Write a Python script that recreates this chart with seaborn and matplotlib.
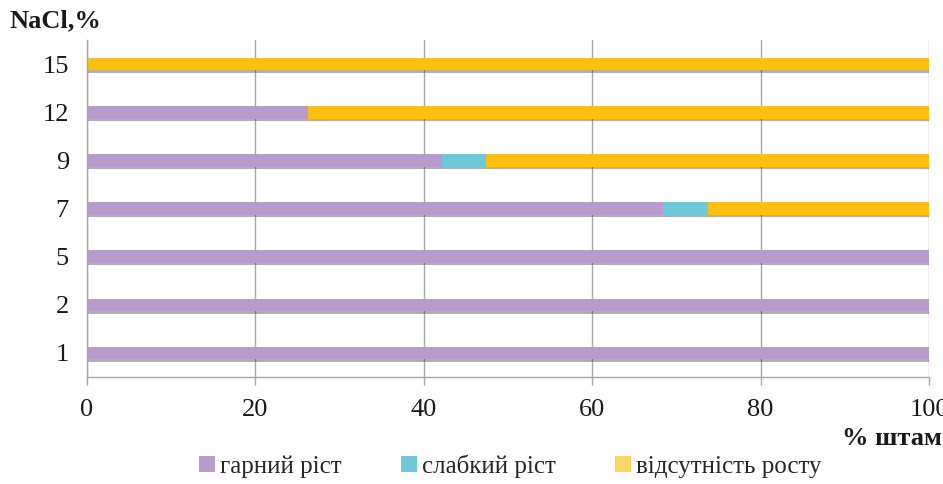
import matplotlib
matplotlib.use("Agg")
import matplotlib.pyplot as plt
import matplotlib.patheffects as pe
from matplotlib.patches import Patch
import seaborn as sns
import pandas as pd

# NaCl concentration (%) and share of strains (%) by growth level
nacl = ["15", "12", "9", "7", "5", "2", "1"]
good_growth = [0.0, 26.3, 42.1, 68.4, 100.0, 100.0, 100.0]
weak_growth = [0.0, 0.0, 5.3, 5.3, 0.0, 0.0, 0.0]
no_growth = [100.0, 73.7, 52.6, 26.3, 0.0, 0.0, 0.0]

series_names = ["гарний ріст", "слабкий ріст", "відсутність росту"]
bar_colors = ["#B89BCB", "#6CC9D9", "#FDC010"]
legend_colors = ["#B89BCB", "#6CC9D9", "#FCD664"]

sns.set_theme(style="white")
plt.rcParams["font.family"] = ["Liberation Serif", "DejaVu Serif"]

df = pd.DataFrame({
    "nacl": nacl,
    "good": good_growth,
    "weak": weak_growth,
    "none": no_growth,
})
df["lvl1"] = df["good"]
df["lvl2"] = df["good"] + df["weak"]
df["lvl3"] = df["good"] + df["weak"] + df["none"]

fig = plt.figure(figsize=(9.43, 4.84), dpi=100)
ax = fig.add_axes([0.0923, 0.221, 0.8929, 0.696])

ax.set_axisbelow(True)
ax.grid(axis="x", color="#A6A6A6", linewidth=1.0)

width = 0.26
# Stacked bars drawn back to front from cumulative totals
sns.barplot(data=df, x="lvl3", y="nacl", order=nacl, orient="h",
            color=bar_colors[2], saturation=1, width=width, ax=ax,
            edgecolor="none")
for p in ax.patches:
    p.set_path_effects([pe.SimplePatchShadow(offset=(0.6, -1.8),
                                             shadow_rgbFace="#3a3a3a",
                                             alpha=0.4),
                        pe.Normal()])
sns.barplot(data=df, x="lvl2", y="nacl", order=nacl, orient="h",
            color=bar_colors[1], saturation=1, width=width, ax=ax,
            edgecolor="none")
sns.barplot(data=df, x="lvl1", y="nacl", order=nacl, orient="h",
            color=bar_colors[0], saturation=1, width=width, ax=ax,
            edgecolor="none")

ax.set_xlim(0, 100)
ax.set_ylim(len(nacl) - 0.5, -0.5)
ax.set_xticks([0, 20, 40, 60, 80, 100])
ax.set_xlabel("")
ax.set_ylabel("")

for side in ["top", "right"]:
    ax.spines[side].set_visible(False)
for side in ["left", "bottom"]:
    ax.spines[side].set_color("#A6A6A6")
    ax.spines[side].set_linewidth(1.0)

ax.tick_params(axis="x", which="both", bottom=True, length=6, width=1.0,
               color="#A6A6A6", labelsize=19, pad=10, labelcolor="#1a1a1a")
ax.tick_params(axis="y", left=False, labelsize=19, pad=7, labelcolor="#1a1a1a")
for lbl in ax.get_xticklabels():
    lbl.set_clip_on(False)

fig.text(0.010, 0.957, "NaCl,%", fontsize=19, fontweight="bold",
         ha="left", va="center", color="#1a1a1a")
fig.text(0.893, 0.095, "% штам", fontsize=19, fontweight="bold",
         ha="left", va="center", color="#1a1a1a")

handles = [Patch(facecolor=c, edgecolor="none") for c in legend_colors]
fig.legend(handles, series_names, loc="center", bbox_to_anchor=(0.541, 0.037),
           ncol=3, frameon=False, fontsize=18, handlelength=0.65,
           handleheight=0.65, handletextpad=0.2, columnspacing=2.35)

fig.savefig("out.png", dpi=100)
